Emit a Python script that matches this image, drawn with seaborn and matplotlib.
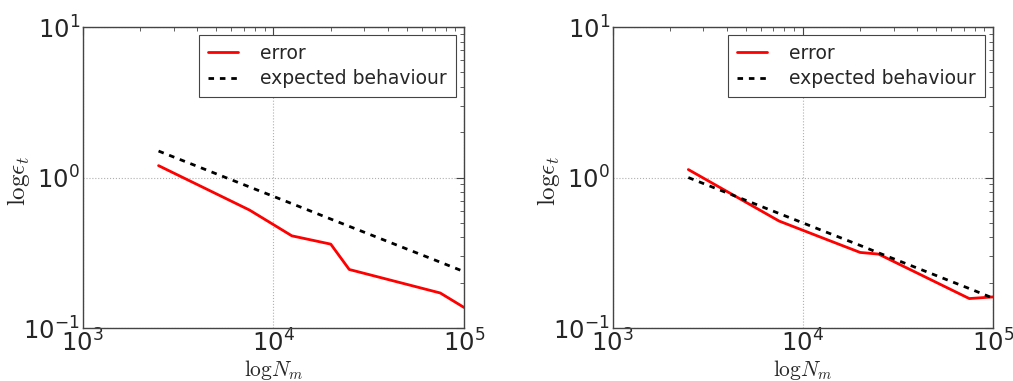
import matplotlib
matplotlib.use("Agg")
import matplotlib.pyplot as plt
import seaborn as sns
import pandas as pd
from matplotlib.ticker import LogLocator

# Number of modes used in each run
n_modes_left = [2500, 7500, 12500, 20000, 25000, 75000, 100000]
n_modes_right = [2500, 7500, 12500, 20000, 25000, 75000, 100000]

# Measured error per run
error_left = [1.20, 0.608, 0.410, 0.361, 0.245, 0.171, 0.137]
error_right = [1.13, 0.514, 0.40, 0.318, 0.310, 0.157, 0.161]

# Reference slope (N^-1/2) evaluated at the same mode counts
expected_left = [1.50, 0.866, 0.671, 0.530, 0.474, 0.274, 0.237]
expected_right = [1.00, 0.577, 0.447, 0.354, 0.316, 0.183, 0.158]

label_error = "error"
label_expected = "expected behaviour"

sns.set_style("white")
plt.rcParams["font.family"] = ["DejaVu Sans"]
plt.rcParams["xtick.direction"] = "in"
plt.rcParams["ytick.direction"] = "in"

fig = plt.figure(figsize=(10.13, 3.81), dpi=100)
axes = [fig.add_axes([0.0816, 0.139, 0.3765, 0.790]),
        fig.add_axes([0.6048, 0.139, 0.3755, 0.790])]

panels = [(n_modes_left, error_left, expected_left),
          (n_modes_right, error_right, expected_right)]

for ax, (n, err, exp) in zip(axes, panels):
    df_err = pd.DataFrame({"N": n, "value": err})
    df_exp = pd.DataFrame({"N": n, "value": exp})
    sns.lineplot(data=df_err, x="N", y="value", ax=ax, color="#ff0000",
                 linewidth=2, label=label_error, estimator=None, sort=False)
    sns.lineplot(data=df_exp, x="N", y="value", ax=ax, color="black",
                 linewidth=2, linestyle=(0, (2, 2.1)), label=label_expected,
                 estimator=None, sort=False)
    ax.set_xscale("log")
    ax.set_yscale("log")
    ax.set_xlim(1e3, 1e5)
    ax.set_ylim(1e-1, 1e1)
    ax.xaxis.set_major_locator(LogLocator(base=10, numticks=10))
    ax.yaxis.set_major_locator(LogLocator(base=10, numticks=10))
    ax.xaxis.set_minor_locator(LogLocator(base=10, subs=range(2, 10), numticks=20))
    ax.yaxis.set_minor_locator(LogLocator(base=10, subs=range(2, 10), numticks=20))
    ax.tick_params(which="both", direction="in", top=True, right=True,
                   color="#444444")
    ax.tick_params(which="major", length=6, labelsize=17.5)
    ax.tick_params(axis="x", which="major", pad=1)
    ax.tick_params(axis="y", which="major", pad=2)
    ax.tick_params(which="minor", length=3)
    ax.grid(True, which="major", color="#b0b0b0", linestyle=":", linewidth=0.8)
    for sp in ax.spines.values():
        sp.set_color("#444444")
        sp.set_linewidth(1.0)
    ax.set_xlabel(r"$\mathrm{log}N_m$", fontsize=15.5, math_fontfamily="cm", labelpad=1)
    ax.set_ylabel(r"$\mathrm{log}\epsilon_t$", fontsize=18, math_fontfamily="cm")
    ax.yaxis.set_label_coords(-0.133, 0.488)
    leg = ax.legend(loc="upper right", fontsize=13.5, frameon=True, fancybox=False,
                    framealpha=1, edgecolor="#444444", handlelength=1.6,
                    borderaxespad=0.45, handletextpad=1.2, borderpad=0.45,
                    labelspacing=0.35)
    leg.get_frame().set_linewidth(0.8)

fig.savefig("out.png", dpi=100)
